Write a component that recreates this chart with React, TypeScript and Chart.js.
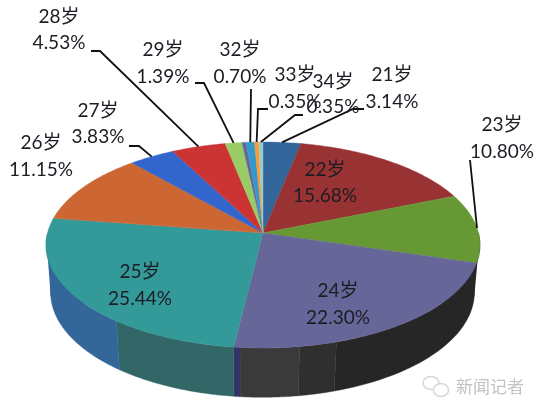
import React, { useEffect, useRef } from "react";
import { Chart, registerables } from "chart.js";

Chart.register(...registerables);

// ---- data ----
const categories = ["21岁", "22岁", "23岁", "24岁", "25岁", "26岁", "27岁", "28岁", "29岁", "30岁", "32岁", "33岁", "34岁"];
const shares = [3.14, 15.68, 10.8, 22.3, 25.44, 11.15, 3.83, 4.53, 1.39, 0.34, 0.7, 0.35, 0.35];
const shareLabels = ["3.14%", "15.68%", "10.80%", "22.30%", "25.44%", "11.15%", "3.83%", "4.53%", "1.39%", "", "0.70%", "0.35%", "0.35%"];
const sliceColors = ["#33669a", "#993333", "#669933", "#666699", "#339999", "#cc6633", "#3366cc", "#cc3333", "#99cc66", "#666699", "#3399cc", "#ff9933", "#99cccc"];

// Outer wall bands: where each band ends (percent of the turn) and its shade
const wallBandEnds = [45.1, 47.6, 51.5, 51.92, 60.6, 75];
const wallBandColors = ["#262626", "#2f2f2f", "#3a3a3a", "#333366", "#336666", "#336699"];
const wallBandStart = 25;

// ---- layout ----
const labelCentres: ([number, number, number] | null)[] = [
  [392, 75, 102], [325, 170, 196], [502, 125, 152], [338, 291, 318], [140, 272, 299],
  [41, 143, 170], [98, 111, 137], [59, 17, 43], [163, 50, 77], null, [240, 50, 77], [295, 75, 102], [333, 82, 107],
];
const leaderElbows: ([number, number][] | null)[] = [
  [[364, 109], [353, 109]], null, [[470, 160]], null, null, null,
  [[129, 146], [139, 146]], [[91, 51], [100, 51]], [[195, 83], [204, 83]], null, [[251, 89]], [[268, 109], [258, 109]], [[303, 115], [295, 115]],
];
const topFace = { cx: 263, y0: 233, a: 215.5, b: 101.6, k: 0.1165 };
const baseFace = { cx: 262.5, y0: 280, a: 210.5, b: 103.6, k: 0.1165 };
type Face = typeof topFace;

const project = (f: Face, theta: number): [number, number] => {
  const u = Math.sin(theta), v = -Math.cos(theta);
  const d = 1 - f.k * v;
  return [f.cx + (f.a * u) / d, f.y0 + (f.b * v) / d];
};

const TAU = Math.PI * 2;
const deg = (d: number) => (d * Math.PI) / 180;

const pie3d = {
  id: "pie3d",
  beforeDatasetsDraw(chart: any) {
    const ctx: CanvasRenderingContext2D = chart.ctx;
    const arcs = chart.getDatasetMeta(0).data;
    ctx.save();
    // silhouette fillers between the two rims, left and right
    const filler = (color: string, t1: number, b1: number, b2: number, t2: number) => {
      ctx.beginPath();
      ctx.moveTo(...project(topFace, deg(t1)));
      ctx.lineTo(...project(baseFace, deg(b1)));
      ctx.lineTo(...project(baseFace, deg(b2)));
      ctx.lineTo(...project(topFace, deg(t2)));
      ctx.closePath();
      ctx.fillStyle = color;
      ctx.fill();
    };
    filler(wallBandColors[wallBandColors.length - 1], 256, 261.3, 240, 230);
    filler(wallBandColors[0], 105, 98.7, 120, 130);
    // wall
    let from = (wallBandStart / 100) * TAU;
    wallBandEnds.forEach((end, i) => {
      const to = (end / 100) * TAU;
      ctx.beginPath();
      const steps = 40;
      for (let s = 0; s <= steps; s++) {
        const [x, y] = project(topFace, from + ((to - from) * s) / steps);
        s ? ctx.lineTo(x, y) : ctx.moveTo(x, y);
      }
      for (let s = steps; s >= 0; s--) {
        const [x, y] = project(baseFace, from + ((to - from) * s) / steps);
        ctx.lineTo(x, y);
      }
      ctx.closePath();
      ctx.fillStyle = wallBandColors[i];
      ctx.strokeStyle = wallBandColors[i];
      ctx.lineWidth = 0.4;
      ctx.fill();
      ctx.stroke();
      from = to;
    });
    // top face, from the arcs the pie controller computed
    arcs.forEach((arc: any, i: number) => {
      const a0 = arc.startAngle + Math.PI / 2;
      const a1 = arc.endAngle + Math.PI / 2;
      ctx.beginPath();
      ctx.moveTo(topFace.cx, topFace.y0);
      const steps = Math.max(2, Math.ceil((a1 - a0) * 60));
      for (let s = 0; s <= steps; s++) {
        const [x, y] = project(topFace, a0 + ((a1 - a0) * s) / steps);
        ctx.lineTo(x, y);
      }
      ctx.closePath();
      ctx.fillStyle = sliceColors[i];
      ctx.strokeStyle = sliceColors[i];
      ctx.lineWidth = 0.4;
      ctx.fill();
      ctx.stroke();
    });
    // leaders
    ctx.strokeStyle = "#111";
    ctx.lineWidth = 1.8;
    ctx.lineJoin = "miter";
    arcs.forEach((arc: any, i: number) => {
      const elbows = leaderElbows[i];
      if (!elbows) return;
      const mid = (arc.startAngle + arc.endAngle) / 2 + Math.PI / 2;
      const [ex, ey] = project(topFace, mid);
      ctx.beginPath();
      elbows.forEach(([x, y], n) => (n ? ctx.lineTo(x, y) : ctx.moveTo(x, y)));
      ctx.lineTo(ex, ey);
      ctx.stroke();
    });
    // labels
    ctx.fillStyle = "#1c1c24";
    ctx.textAlign = "center";
    ctx.textBaseline = "middle";
    ctx.font = '19px Lato, "Noto Sans CJK SC", sans-serif';
    categories.forEach((name, i) => {
      const c = labelCentres[i];
      if (!c) return;
      ctx.fillText(name, c[0], c[1]);
      ctx.fillText(shareLabels[i], c[0], c[2]);
    });
    // watermark
    ctx.fillStyle = "#c2c2c2";
    ctx.font = '17px "Noto Sans CJK SC", sans-serif';
    ctx.textAlign = "left";
    ctx.fillText("新闻记者", 456, 387);
    ctx.strokeStyle = "#d6d6d6";
    ctx.lineWidth = 1.5;
    ctx.beginPath();
    ctx.ellipse(431, 383, 8, 6.5, 0, 0, TAU);
    ctx.stroke();
    ctx.fillStyle = "#fff";
    ctx.beginPath();
    ctx.ellipse(441, 390, 7.5, 6.5, 0, 0, TAU);
    ctx.fill();
    ctx.stroke();
    ctx.restore();
    return false;
  },
};

export default function App() {
  const ref = useRef<HTMLCanvasElement>(null);
  useEffect(() => {
    const chart = new Chart(ref.current!, {
      type: "pie",
      data: { labels: categories, datasets: [{ data: shares, backgroundColor: sliceColors, borderWidth: 0 }] },
      options: {
        animation: false,
        responsive: false,
        plugins: { legend: { display: false }, tooltip: { enabled: false } },
      },
      plugins: [pie3d],
    } as any);
    return () => chart.destroy();
  }, []);
  return (
    <canvas
      ref={ref}
      width={538}
      height={412}
      style={{ position: "fixed", left: 0, top: 0, width: 538, height: 412, background: "#fff" }}
    />
  );
}
